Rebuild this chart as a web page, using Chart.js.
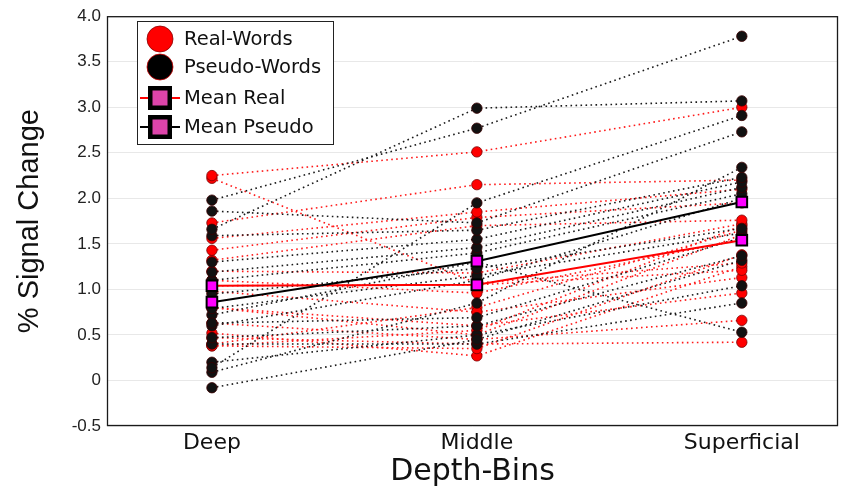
<!DOCTYPE html>
<html>
<head>
<meta charset="utf-8">
<script src="https://cdn.jsdelivr.net/npm/chart.js@4"></script>
<style>
html,body{margin:0;padding:0;background:#fff;}
#wrap{width:841px;height:490px;}
</style>
</head>
<body>
<div id="wrap"><canvas id="c" width="841" height="490"></canvas></div>
<script>
const categories = ['Deep', 'Middle', 'Superficial'];
const yTicks = [-0.5, 0, 0.5, 1.0, 1.5, 2.0, 2.5, 3.0, 3.5, 4.0];

// each row = one subject: [Deep, Middle, Superficial]
const realWords = [
  [2.25, 2.51, 3.00],
  [2.22, 1.07, 1.29],
  [1.73, 2.15, 2.20],
  [1.56, 1.85, 2.10],
  [1.43, 1.79, 1.95],
  [1.32, 1.70, 1.76],
  [1.20, 1.18, 1.72],
  [1.10, 0.96, 1.55],
  [1.04, 1.05, 1.21],
  [0.98, 0.75, 1.13],
  [0.80, 0.60, 0.96],
  [0.80, 0.50, 1.60],
  [0.63, 0.45, 0.66],
  [0.47, 0.40, 0.42],
  [0.38, 0.35, 1.38],
  [0.52, 0.27, 1.25],
  [0.40, 0.80, 1.65],
  [0.38, 0.55, 1.70]
];
const pseudoWords = [
  [1.66, 2.99, 3.07],
  [1.98, 2.77, 3.78],
  [0.14, 1.95, 2.91],
  [1.86, 1.73, 2.73],
  [0.09, 0.85, 2.34],
  [1.59, 1.65, 2.23],
  [1.30, 1.55, 2.18],
  [1.19, 1.46, 2.12],
  [1.10, 1.40, 2.05],
  [0.95, 1.23, 1.67],
  [0.79, 1.15, 1.62],
  [0.63, 0.69, 1.57],
  [0.47, 0.60, 1.37],
  [-0.08, 0.45, 1.32],
  [0.20, 0.50, 1.04],
  [0.40, 0.40, 0.85],
  [0.72, 1.30, 0.53],
  [0.60, 1.10, 2.00]
];
const meanReal = [1.04, 1.05, 1.54];
const meanPseudo = [0.86, 1.31, 1.96];

const legendItems = ['Real-Words', 'Pseudo-Words', 'Mean Real', 'Mean Pseudo'];

function toXY(vals) { return vals.map((v, i) => ({ x: i + 1, y: v })); }

const datasets = [];
realWords.forEach(s => datasets.push({
  data: toXY(s), borderColor: '#ff1a1a', borderWidth: 1.6, borderDash: [1.6, 3.4],
  pointRadius: 5.2, pointBackgroundColor: '#ff0000', pointBorderColor: '#7a0000', pointBorderWidth: 0.8,
  order: 3, tension: 0
}));
pseudoWords.forEach(s => datasets.push({
  data: toXY(s), borderColor: '#1a1a1a', borderWidth: 1.6, borderDash: [1.6, 3.4],
  pointRadius: 5.2, pointBackgroundColor: '#111111', pointBorderColor: '#3a0000', pointBorderWidth: 0.8,
  order: 2, tension: 0
}));
datasets.push({
  data: toXY(meanReal), borderColor: '#ff0000', borderWidth: 2,
  pointStyle: 'rect', pointRadius: 7.5, pointBackgroundColor: '#ff00ff', pointBorderColor: '#000', pointBorderWidth: 2,
  order: 1
});
datasets.push({
  data: toXY(meanPseudo), borderColor: '#000000', borderWidth: 2,
  pointStyle: 'rect', pointRadius: 7.5, pointBackgroundColor: '#ff00ff', pointBorderColor: '#000', pointBorderWidth: 2,
  order: 0
});

const boxAndLegend = {
  id: 'boxAndLegend',
  afterDraw(chart) {
    const ctx = chart.ctx, a = chart.chartArea;
    ctx.save();
    ctx.strokeStyle = '#1a1a1a';
    ctx.lineWidth = 1.3;
    ctx.strokeRect(a.left + 0.5, a.top + 0.5, a.right - a.left - 1, a.bottom - a.top - 1);
    // legend
    const lx = 137, ly = 21, lw = 196, lh = 123;
    ctx.fillStyle = '#fff';
    ctx.fillRect(lx, ly, lw, lh);
    ctx.strokeStyle = '#222';
    ctx.lineWidth = 1;
    ctx.strokeRect(lx + 0.5, ly + 0.5, lw, lh);
    const rows = [39, 67, 98, 127];
    const sx = 160;
    ctx.beginPath(); ctx.arc(sx, rows[0], 13, 0, Math.PI * 2);
    ctx.fillStyle = '#ff0000'; ctx.fill(); ctx.strokeStyle = '#8a0000'; ctx.lineWidth = 0.8; ctx.stroke();
    ctx.beginPath(); ctx.arc(sx, rows[1], 13, 0, Math.PI * 2);
    ctx.fillStyle = '#000'; ctx.fill(); ctx.strokeStyle = '#cc0000'; ctx.lineWidth = 0.8; ctx.stroke();
    [[rows[2], '#ff0000'], [rows[3], '#000000']].forEach(([y, c]) => {
      ctx.beginPath(); ctx.moveTo(140, y); ctx.lineTo(180, y);
      ctx.strokeStyle = c; ctx.lineWidth = 2; ctx.stroke();
      ctx.fillStyle = '#000'; ctx.fillRect(sx - 12, y - 12, 24, 24);
      ctx.fillStyle = '#dd44aa'; ctx.fillRect(sx - 7.5, y - 7.5, 15, 15);
    });
    ctx.fillStyle = '#111';
    ctx.font = '19.5px "DejaVu Sans"';
    ctx.textBaseline = 'middle';
    ctx.textAlign = 'left';
    legendItems.forEach((t, i) => ctx.fillText(t, 184, rows[i] + 1));
    ctx.restore();
  }
};

new Chart(document.getElementById('c'), {
  type: 'line',
  data: { datasets },
  options: {
    responsive: false,
    animation: false,
    devicePixelRatio: 1,
    layout: { autoPadding: false, padding: { left: 0, right: 3, top: 16, bottom: 0 } },
    plugins: { legend: { display: false }, tooltip: { enabled: false } },
    scales: {
      x: {
        type: 'linear', min: 0.604, max: 3.363,
        afterBuildTicks: s => { s.ticks = categories.map((c, i) => ({ value: i + 1 })); },
        afterFit: s => { s.height = 64; s.paddingLeft = 0; s.paddingRight = 0; },
        grid: { display: false, drawTicks: false },
        border: { display: false },
        ticks: {
          padding: 4, color: '#111', font: { family: 'DejaVu Sans', size: 22 },
          callback: v => categories[v - 1] || ''
        },
        title: { display: true, text: 'Depth-Bins', color: '#111', font: { family: 'DejaVu Sans', size: 30 }, padding: { top: 0, bottom: 0 } }
      },
      y: {
        min: -0.5, max: 4.0,
        afterBuildTicks: s => { s.ticks = yTicks.map(v => ({ value: v })); },
        afterFit: s => { s.width = 107; },
        grid: { color: '#e8e8e8', drawTicks: false, lineWidth: 1 },
        border: { display: false },
        ticks: {
          padding: 6, color: '#222', font: { family: 'Liberation Sans', size: 17 },
          callback: v => v === 0 ? '0' : v.toFixed(1)
        },
        title: { display: true, text: '% Signal Change', color: '#111', font: { family: 'Liberation Sans', size: 29 }, padding: { top: 13, bottom: 0 } }
      }
    }
  },
  plugins: [boxAndLegend]
});
</script>
</body>
</html>
